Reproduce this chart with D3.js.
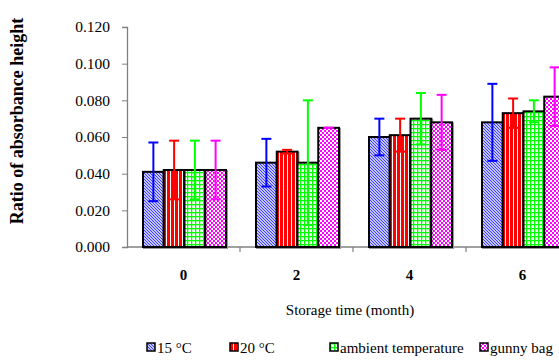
<!DOCTYPE html>
<html>
<head>
<meta charset="utf-8">
<script src="https://cdn.jsdelivr.net/npm/d3@7"></script>
<style>
  body { margin: 0; background: #fff; }
  svg { display: block; }
  svg text { font-family: "Liberation Serif", "Times New Roman", serif; }
</style>
</head>
<body>
<div id="chart"></div>
<script>
// storage time categories
const months = ["0", "2", "4", "6"];
const seriesNames = ["15 °C", "20 °C", "ambient temperature", "gunny bag"];
const seriesKeys = ["c15", "c20", "amb", "gunny"];

// mean values per series
const c15 = [0.041, 0.046, 0.060, 0.068];
const c20 = [0.042, 0.052, 0.061, 0.073];
const amb = [0.042, 0.046, 0.070, 0.074];
const gunny = [0.042, 0.065, 0.068, 0.082];

// error (+/-)
const c15Err = [0.016, 0.013, 0.010, 0.021];
const c20Err = [0.016, 0.001, 0.009, 0.008];
const ambErr = [0.016, 0.034, 0.014, 0.006];
const gunnyErr = [0.016, 0.000, 0.015, 0.016];

const yTicks = [0, 0.02, 0.04, 0.06, 0.08, 0.10, 0.12];

const values = { c15, c20, amb, gunny };
const errors = { c15: c15Err, c20: c20Err, amb: ambErr, gunny: gunnyErr };
const colors = { c15: "#0000ff", c20: "#ff0000", amb: "#00ff00", gunny: "#ff00ff" };

const FONT = "Liberation Serif";
const W = 559, H = 362;
const x0 = 127, bandW = 113;

const svg = d3.select("#chart").append("svg").attr("width", W).attr("height", H);
const defs = svg.append("defs");

// patterns
let p = defs.append("pattern").attr("id", "pat-c15").attr("patternUnits", "userSpaceOnUse")
  .attr("width", 3).attr("height", 3);
p.append("rect").attr("width", 3).attr("height", 3).attr("fill", "#fff");
p.append("path").attr("d", "M0,0 L3,3 M-1,2 L1,4 M2,-1 L4,1").attr("stroke", "#3333ff").attr("stroke-width", 1.1);

p = defs.append("pattern").attr("id", "pat-c20").attr("patternUnits", "userSpaceOnUse")
  .attr("width", 4).attr("height", 4);
p.append("rect").attr("width", 4).attr("height", 4).attr("fill", "#ff0000");
p.append("rect").attr("x", 3).attr("width", 1).attr("height", 4).attr("fill", "#fff");

p = defs.append("pattern").attr("id", "pat-amb").attr("patternUnits", "userSpaceOnUse")
  .attr("width", 4).attr("height", 4);
p.append("rect").attr("width", 4).attr("height", 4).attr("fill", "#fff");
p.append("rect").attr("width", 1.3).attr("height", 4).attr("fill", "#00ff00");
p.append("rect").attr("width", 4).attr("height", 1.3).attr("fill", "#00ff00");

p = defs.append("pattern").attr("id", "pat-gunny").attr("patternUnits", "userSpaceOnUse")
  .attr("width", 4).attr("height", 4);
p.append("rect").attr("width", 4).attr("height", 4).attr("fill", "#ff00ff");
p.append("rect").attr("width", 2).attr("height", 2).attr("fill", "#fff");
p.append("rect").attr("x", 2).attr("y", 2).attr("width", 2).attr("height", 2).attr("fill", "#fff");

// scales
const x = d3.scaleBand().domain(months).range([x0, x0 + bandW * months.length]).padding(0);
const xs = d3.scaleBand().domain(seriesKeys).range([16, 99]).padding(0);
const y = d3.scaleLinear().domain([0, 0.12]).range([247, 27]);

// y axis
const yAxis = svg.append("g").attr("transform", `translate(${x0},0)`)
  .call(d3.axisLeft(y).tickValues(yTicks).tickFormat(d3.format(".3f")).tickSize(5).tickPadding(12));
yAxis.attr("font-family", FONT);
yAxis.select(".domain").attr("stroke", "#808080").attr("stroke-width", 1.3);
yAxis.selectAll(".tick line").attr("stroke", "#808080");
yAxis.selectAll("text").attr("font-size", 15.5).attr("fill", "#000").attr("font-family", FONT);

// x axis baseline with ticks between groups
const xAxis = svg.append("g").attr("transform", `translate(0,${y(0)})`);
xAxis.append("line").attr("x1", x0).attr("x2", W).attr("stroke", "#808080").attr("stroke-width", 1.5);
xAxis.selectAll(".sep").data(months.slice(1)).enter().append("line")
  .attr("x1", d => x(d)).attr("x2", d => x(d)).attr("y1", 0).attr("y2", 5)
  .attr("stroke", "#808080").attr("stroke-width", 1.2);
xAxis.selectAll(".lbl").data(months).enter().append("text")
  .attr("x", d => x(d) + x.bandwidth() / 2).attr("y", 33)
  .attr("text-anchor", "middle").attr("font-size", 15).attr("font-weight", "bold")
  .attr("font-family", FONT).text(d => d);

// bars
const groups = svg.selectAll(".grp").data(months).enter().append("g")
  .attr("transform", d => `translate(${x(d)},0)`);

seriesKeys.forEach(k => {
  groups.append("rect")
    .attr("x", (d, i) => xs(k) + 1).attr("y", (d, i) => y(values[k][i]) + 1)
    .attr("width", xs.bandwidth()).attr("height", (d, i) => y(0) - y(values[k][i]))
    .attr("fill", "none").attr("stroke", "#999").attr("stroke-width", 2);
  groups.append("rect")
    .attr("x", (d, i) => xs(k)).attr("y", (d, i) => y(values[k][i]))
    .attr("width", xs.bandwidth()).attr("height", (d, i) => y(0) - y(values[k][i]))
    .attr("fill", `url(#pat-${k})`).attr("stroke", "#000").attr("stroke-width", 2);
});

// error bars
seriesKeys.forEach(k => {
  const cx = xs(k) + xs.bandwidth() / 2;
  groups.each(function(d, i) {
    const v = values[k][i], e = errors[k][i];
    const g = d3.select(this);
    const c = colors[k];
    g.append("line").attr("x1", cx).attr("x2", cx).attr("y1", y(v + e)).attr("y2", y(v - e))
      .attr("stroke", c).attr("stroke-width", 2);
    [v + e, v - e].forEach(t => {
      g.append("line").attr("x1", cx - 5).attr("x2", cx + 5).attr("y1", y(t)).attr("y2", y(t))
        .attr("stroke", c).attr("stroke-width", 2);
    });
  });
});

// axis titles
svg.append("text").attr("transform", "translate(23,121) rotate(-90)")
  .attr("text-anchor", "middle").attr("font-size", 18).attr("font-weight", "bold")
  .attr("font-family", FONT).text("Ratio of absorbance height");
svg.append("text").attr("x", 350).attr("y", 315).attr("text-anchor", "middle")
  .attr("font-size", 15).attr("font-family", FONT).text("Storage time (month)");

// legend
const legendX = [147, 230, 330, 480];
const leg = svg.selectAll(".leg").data(seriesKeys).enter().append("g")
  .attr("transform", (d, i) => `translate(${legendX[i]},343)`);
leg.append("rect").attr("width", 8).attr("height", 8)
  .attr("fill", d => `url(#pat-${d})`).attr("stroke", "#000").attr("stroke-width", 1.5);
leg.append("text").attr("x", 10).attr("y", 9.5).attr("font-size", 15)
  .attr("font-family", FONT).text((d, i) => seriesNames[i]);
</script>
</body>
</html>
